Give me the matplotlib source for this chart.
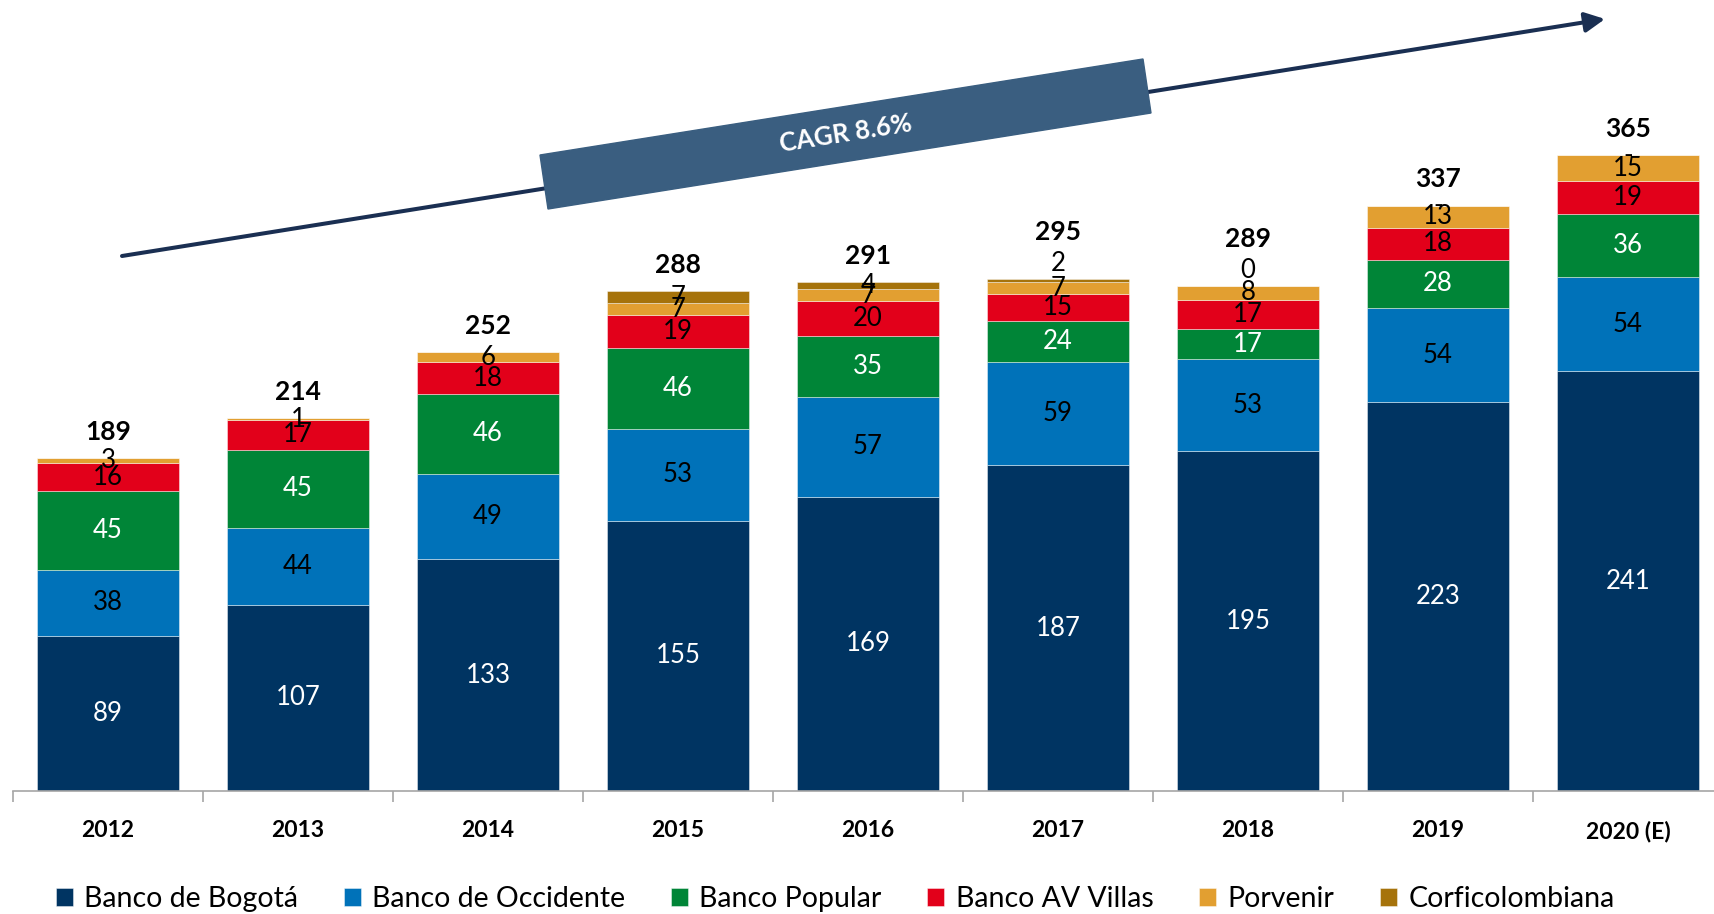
import numpy as np
import matplotlib
matplotlib.use("Agg")
import matplotlib.pyplot as plt
from matplotlib.patches import Polygon, FancyArrowPatch

plt.rcParams['font.family'] = ['Lato', 'DejaVu Sans']

# data
years = ["2012", "2013", "2014", "2015", "2016", "2017", "2018", "2019", "2020 (E)"]
bogota = [89, 107, 133, 155, 169, 187, 195, 223, 241]
occidente = [38, 44, 49, 53, 57, 59, 53, 54, 54]
popular = [45, 45, 46, 46, 35, 24, 17, 28, 36]
avvillas = [16, 17, 18, 19, 20, 15, 17, 18, 19]
porvenir = [3, 1, 6, 7, 7, 7, 8, 13, 15]
corfi = [0, 0, 0, 7, 4, 2, 0, 0, 0]
corfi_labels = ["", "", "", "7", "4", "2", "0", "-", "-"]
totals = [189, 214, 252, 288, 291, 295, 289, 337, 365]

series = [
    ("Banco de Bogotá", bogota, "#003462", "white"),
    ("Banco de Occidente", occidente, "#0072b9", "black"),
    ("Banco Popular", popular, "#008537", "white"),
    ("Banco AV Villas", avvillas, "#e2001a", "black"),
    ("Porvenir", porvenir, "#e29f31", "black"),
    ("Corficolombiana", corfi, "#a6730b", "black"),
]

W, H = 1715, 914
fig = plt.figure(figsize=(W / 100, H / 100), dpi=100)
ax = fig.add_axes([13 / W, 123 / H, 1710 / W, 791 / H])

x = np.arange(len(years))
bottom = np.zeros(len(years))
for name, vals, col, tcol in series:
    vals = np.array(vals, dtype=float)
    ax.bar(x, vals, 0.743, bottom=bottom, color=col, label=name,
           edgecolor=(1, 1, 1, 0.5), linewidth=0.6)
    if name == "Corficolombiana":
        for i in range(len(years)):
            lab = corfi_labels[i]
            if not lab:
                continue
            top = bottom[i] + vals[i]
            if lab.isdigit() and vals[i] < 3:
                y = top + 9
            else:
                y = bottom[i] + vals[i] / 2
            ax.text(x[i], y, lab, ha="center", va="center", fontsize=18.5, color=tcol)
    else:
        for i in range(len(years)):
            ax.text(x[i], bottom[i] + vals[i] / 2, str(int(vals[i])), ha="center",
                    va="center", fontsize=18.5, color=tcol)
    bottom += vals

for i in range(len(years)):
    off = 15
    if corfi_labels[i].isdigit() and corfi[i] < 3:
        off = 27
    ax.text(x[i], bottom[i] + off, str(totals[i]), ha="center", va="center",
            fontsize=19, fontweight="bold")

ax.set_xlim(-0.5, 8.5)
ax.set_ylim(0, 454)
for s in ["top", "right", "left"]:
    ax.spines[s].set_visible(False)
ax.spines["bottom"].set_color("#a6a6a6")
ax.spines["bottom"].set_linewidth(1.2)
ax.set_yticks([])
ax.set_xticks(np.arange(-0.5, 9.0, 1.0))
ax.set_xticklabels([])
ax.tick_params(axis="x", which="major", length=8, width=1.2, color="#a6a6a6")
ax.set_xticks(x, minor=True)
ax.set_xticklabels(years, minor=True, fontsize=16.5, fontweight="bold")
ax.tick_params(axis="x", which="minor", length=0, pad=21)

# CAGR arrow and box (figure pixel positions)
def fp(px, py):
    return (px / W, 1 - py / H)

arrow = FancyArrowPatch(fp(122, 256), fp(1605, 19), transform=fig.transFigure,
                        arrowstyle="-|>,head_length=1.2,head_width=0.6",
                        mutation_scale=10, lw=2.9, color="#1a2f52",
                        shrinkA=0, shrinkB=0)
fig.add_artist(arrow)
box = Polygon([fp(540, 155), fp(1143, 59), fp(1151, 113), fp(548, 209)],
              closed=True, transform=fig.transFigure, color="#3a5e80", zorder=5)
fig.add_artist(box)
fig.text(845.5 / W, 1 - 134 / H, "CAGR 8.6%", ha="center", va="center",
         rotation=9.05, color="white", fontsize=18.5, fontweight="bold", zorder=6)

fig.legend(loc="center", bbox_to_anchor=(0.487, 0.0164), ncol=6, frameon=False,
           fontsize=20.5, handlelength=0.6, handleheight=0.6, handletextpad=0.4,
           columnspacing=1.6, borderaxespad=0)

fig.savefig("out.png", dpi=100)
